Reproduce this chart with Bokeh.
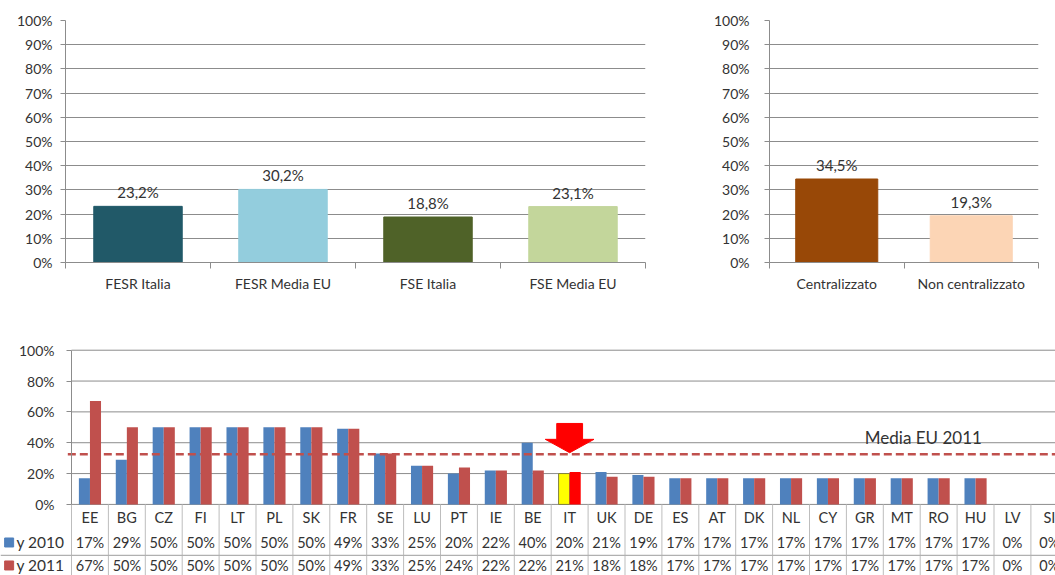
import numpy as np
from bokeh.plotting import figure
from bokeh.layouts import column, row
from bokeh.models import Range1d, FixedTicker, ColumnDataSource
from bokeh.core.properties import value
from bokeh.embed import file_html
from bokeh.resources import INLINE

# ---------------- data ----------------
fondi_cat = ["FESR Italia", "FESR Media EU", "FSE Italia", "FSE Media EU"]
fondi_val = [23.2, 30.2, 18.8, 23.1]
fondi_col = ["#215968", "#93CDDD", "#4F6228", "#C3D69B"]

gest_cat = ["Centralizzato", "Non centralizzato"]
gest_val = [34.5, 19.3]
gest_col = ["#984807", "#FCD5B5"]

paesi = ["EE", "BG", "CZ", "FI", "LT", "PL", "SK", "FR", "SE", "LU", "PT", "IE", "BE",
         "IT", "UK", "DE", "ES", "AT", "DK", "NL", "CY", "GR", "MT", "RO", "HU", "LV", "SI"]
y2010 = [17, 29, 50, 50, 50, 50, 50, 49, 33, 25, 20, 22, 40,
         20, 21, 19, 17, 17, 17, 17, 17, 17, 17, 17, 17, 0, 0]
y2011 = [67, 50, 50, 50, 50, 50, 50, 49, 33, 25, 24, 22, 22,
         21, 18, 18, 17, 17, 17, 17, 17, 17, 17, 17, 17, 0, 0]
serie = ["y 2010", "y 2011"]
media_eu_2011 = 32.5
media_label = "Media EU 2011"
evidenziato = "IT"

pct_ticks_top = list(range(0, 101, 10))
pct_ticks_bottom = list(range(0, 101, 20))

# ---------------- style ----------------
FONT = "Lato"
TXT = "#333333"
GRID = "#8c8c8c"
BLUE = "#4F81BD"
RED = "#C0504D"


def fmt_it(v):
    return f"{v:.1f}%".replace(".", ",")


def top_chart(cats, vals, cols, width, bl, br, bar_w, ystand):
    n = len(cats)
    p = figure(width=width, height=318, x_range=Range1d(0, n), y_range=Range1d(0, 100),
               output_backend="svg", toolbar_location=None,
               min_border_left=bl, min_border_right=br, min_border_top=20, min_border_bottom=56)
    p.outline_line_color = None
    idx = [i + 0.5 for i in range(n)]
    src = ColumnDataSource(dict(x=idx, top=vals, color=cols, label=[fmt_it(v) for v in vals]))
    p.ygrid.ticker = FixedTicker(ticks=pct_ticks_top)
    p.ygrid.grid_line_color = GRID
    p.xgrid.visible = False
    p.vbar(x="x", top="top", bottom=0, width=bar_w, fill_color="color", line_color="color", source=src)
    p.text(x="x", y="top", text="label", source=src, text_align="center", text_baseline="bottom",
           y_offset=-5, text_font=value(FONT), text_font_size="15px", text_color=TXT)
    ya = p.yaxis[0]
    ya.ticker = FixedTicker(ticks=pct_ticks_top)
    ya.major_label_overrides = {t: f"{t}%" for t in pct_ticks_top}
    ya.axis_line_color = GRID
    ya.major_tick_line_color = GRID
    ya.major_tick_out = 5
    ya.major_tick_in = 0
    ya.minor_tick_line_color = None
    ya.major_label_text_font = FONT
    ya.major_label_text_font_size = "14px"
    ya.major_label_text_color = TXT
    ya.major_label_standoff = ystand
    xa = p.xaxis[0]
    xa.ticker = FixedTicker(ticks=idx, minor_ticks=list(range(n + 1)))
    xa.major_label_overrides = {t: c for t, c in zip(idx, cats)}
    xa.axis_line_color = GRID
    xa.major_tick_line_color = None
    xa.major_tick_out = 0
    xa.major_tick_in = 0
    xa.minor_tick_line_color = GRID
    xa.minor_tick_out = 6
    xa.minor_tick_in = 0
    xa.major_label_text_font = FONT
    xa.major_label_text_font_size = "14px"
    xa.major_label_text_color = TXT
    xa.major_label_standoff = 6
    return p


p1 = top_chart(fondi_cat, fondi_val, fondi_col, 688, 65, 43, 0.61, 8)
p2 = top_chart(gest_cat, gest_val, gest_col, 367, 81, 17, 0.61, 15)

# ---------------- bottom chart ----------------
PX = 36.9          # pixels per country column
W3 = 1055
AXIS_X = 71
PXY = 1.54         # pixels per percentage point
X0 = AXIS_X / PX
X1 = (W3 - AXIS_X) / PX
Y0 = -(575 - 504) / PXY
YTOP = 105
n = len(paesi)
ROW_HDR, ROW_10, SEP, ROW_11 = -8.4, -24.7, -33.1, -39.6

p3 = figure(width=W3, height=257, x_range=Range1d(-X0, X1), y_range=Range1d(Y0, YTOP),
            output_backend="svg", toolbar_location=None,
            min_border_left=0, min_border_right=0, min_border_top=24, min_border_bottom=0)
p3.outline_line_color = None
p3.xgrid.visible = False
p3.ygrid.visible = False
p3.xaxis.visible = False

xs = np.arange(n) + 0.5
# gridlines
p3.segment(x0=[0] * len(pct_ticks_bottom), x1=[X1] * len(pct_ticks_bottom),
           y0=pct_ticks_bottom, y1=pct_ticks_bottom, line_color=GRID, line_width=1)
# table lines
bounds = list(range(n + 1))
p3.segment(x0=bounds, x1=bounds, y0=[0] * len(bounds), y1=[Y0] * len(bounds),
           line_color="#bdbdbd", line_width=1)
p3.segment(x0=[-X0], x1=[X1], y0=[SEP], y1=[SEP], line_color="#b0b0b0", line_width=1.2)

c10 = ["#FFFF00" if c == evidenziato else BLUE for c in paesi]
c11 = ["#FF0000" if c == evidenziato else RED for c in paesi]
l10 = ["#7f7f3f" if c == evidenziato else None for c in paesi]
src3 = ColumnDataSource(dict(x10=xs - 0.15, x11=xs + 0.15, x=xs, v10=y2010, v11=y2011,
                             c10=c10, c11=c11, l10=l10, paese=paesi,
                             t10=[f"{v}%" for v in y2010], t11=[f"{v}%" for v in y2011]))
p3.vbar(x="x10", top="v10", bottom=0, width=0.3, fill_color="c10", line_color="l10", source=src3)
p3.vbar(x="x11", top="v11", bottom=0, width=0.3, fill_color="c11", line_color=None, source=src3)

# mean line + label
p3.line(x=[-0.1, X1], y=[media_eu_2011, media_eu_2011], line_color=RED, line_width=2.5,
        line_dash="8 4")
p3.text(x=[21.5], y=[media_eu_2011 + 11], text=[media_label], text_align="left",
        text_baseline="middle", text_font=value(FONT), text_font_size="17px", text_color=TXT)

# arrow over highlighted country
ix = paesi.index(evidenziato) + 0.5
tip, base, top_ = media_eu_2011 + 1, media_eu_2011 + 9.7, media_eu_2011 + 20
p3.patch(x=[ix, ix - 0.66, ix - 0.35, ix - 0.35, ix + 0.35, ix + 0.35, ix + 0.66],
         y=[tip, base, base, top_, top_, base, base], fill_color="#FF0000", line_color="#FF0000")

# table text
tfont = dict(text_font=value(FONT), text_font_size="14.5px", text_color=TXT,
             text_align="center", text_baseline="middle")
p3.text(x="x", y=ROW_HDR, text="paese", source=src3, **tfont)
p3.text(x="x", y=ROW_10, text="t10", source=src3, **tfont)
p3.text(x="x", y=ROW_11, text="t11", source=src3, **tfont)

# legend keys
p3.scatter(x=[-1.69, -1.69], y=[ROW_10, ROW_11], marker="square", size=9,
           fill_color=[BLUE, RED], line_color=[BLUE, RED])
p3.text(x=[-1.49, -1.49], y=[ROW_10, ROW_11], text=serie, text_align="left",
        text_baseline="middle", text_font=value(FONT), text_font_size="15.5px", text_color=TXT)

ya = p3.yaxis[0]
ya.fixed_location = 0
ya.bounds = (0, 100)
ya.ticker = FixedTicker(ticks=pct_ticks_bottom)
ya.major_label_overrides = {t: f"{t}%" for t in pct_ticks_bottom}
ya.axis_line_color = GRID
ya.major_tick_line_color = GRID
ya.major_tick_out = 5
ya.major_tick_in = 0
ya.minor_tick_line_color = None
ya.major_label_text_font = FONT
ya.major_label_text_font_size = "14px"
ya.major_label_text_color = TXT
ya.major_label_standoff = 12

layout = column(row(p1, p2), p3)
open("out.html", "w").write(file_html(layout, INLINE))
